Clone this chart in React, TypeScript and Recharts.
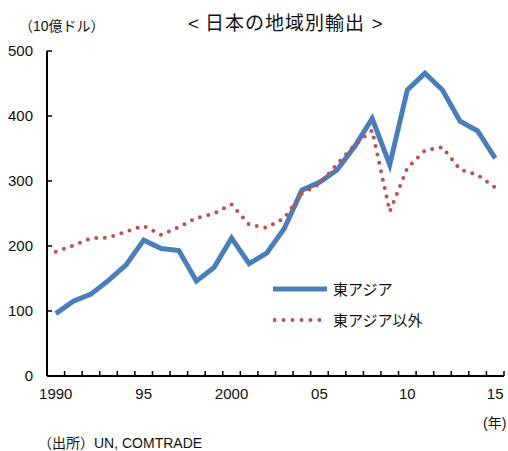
import { LineChart, Line, XAxis, YAxis } from "recharts";

const years = [
  1990, 1991, 1992, 1993, 1994, 1995, 1996, 1997, 1998, 1999, 2000, 2001, 2002,
  2003, 2004, 2005, 2006, 2007, 2008, 2009, 2010, 2011, 2012, 2013, 2014, 2015,
];
// 東アジア向け (10億ドル)
const eastAsia = [
  96, 115, 126, 147, 171, 209, 196, 193, 146, 167, 212, 173, 189, 227, 286, 298,
  317, 353, 396, 325, 440, 466, 440, 392, 377, 335,
];
// 東アジア以外向け
const otherRegions = [
  191, 201, 212, 213, 222, 231, 217, 229, 243, 250, 264, 233, 228, 243, 281, 295,
  326, 355, 378, 253, 320, 347, 352, 318, 309, 290,
];
const yTicks = [0, 100, 200, 300, 400, 500];
const yearLabels: Record<number, string> = {
  1990: "1990",
  1995: "95",
  2000: "2000",
  2005: "05",
  2010: "10",
  2015: "15",
};

const series = [
  { key: "eastAsia", name: "東アジア", color: "#4a7ebb", dotted: false },
  { key: "other", name: "東アジア以外", color: "#c0504d", dotted: true },
];

const data = years.map((year, i) => ({
  year,
  eastAsia: eastAsia[i],
  other: otherRegions[i],
}));

// tick marks sit between the years, labels on the years
const xTicks = years
  .flatMap((y) => [y - 0.5, y])
  .concat(years[years.length - 1] + 0.5);

const FONT = "'Liberation Sans', 'Noto Sans CJK JP', sans-serif";
const TICK_GAP = 12;

const YearTick = ({ x, y, payload }: any) => {
  const v = payload.value;
  if (v % 1 !== 0) {
    return (
      <line x1={x} x2={x} y1={y - TICK_GAP} y2={y - TICK_GAP - 5} stroke="#000" strokeWidth={1.5} />
    );
  }
  if (!yearLabels[v]) return <g />;
  return (
    <text x={x} y={y} dy="0.71em" textAnchor="middle" fontSize={15} fill="#111" fontFamily={FONT}>
      {yearLabels[v]}
    </text>
  );
};

const ValueTick = ({ x, y, payload }: any) => (
  <g>
    <text x={x} y={y} dy="0.355em" textAnchor="end" fontSize={15} fill="#111" fontFamily={FONT}>
      {payload.value}
    </text>
    <line x1={x + 14} x2={x + 19} y1={y} y2={y} stroke="#000" strokeWidth={1.5} />
  </g>
);

const ChartLegend = () => (
  <div style={{ position: "absolute", left: 273, top: 273, fontSize: 15, color: "#111" }}>
    {series.map((s) => (
      <div key={s.key} style={{ display: "flex", alignItems: "center", height: 31 }}>
        <svg width={60} height={10}>
          {s.dotted ? (
            <line x1={1.5} x2={48} y1={5} y2={5} stroke={s.color} strokeWidth={4}
              strokeDasharray="0 9" strokeLinecap="round" />
          ) : (
            <line x1={0} x2={54} y1={5} y2={5} stroke={s.color} strokeWidth={5} />
          )}
        </svg>
        <span style={{ whiteSpace: "nowrap" }}>{s.name}</span>
      </div>
    ))}
  </div>
);

export default function App() {
  return (
    <div style={{ position: "absolute", left: 0, top: 0, width: 508, height: 451, background: "#fff", fontFamily: FONT, color: "#111" }}>
      <div style={{ position: "absolute", left: 188, top: 14, fontSize: 19, lineHeight: 1, letterSpacing: 1, whiteSpace: "nowrap" }}>
        <span style={{ marginRight: 5 }}>{"<"}</span>
        {"日本の地域別輸出 >"}
      </div>
      <div style={{ position: "absolute", left: 19, top: 19, fontSize: 14, lineHeight: 1, whiteSpace: "nowrap" }}>
        （10億ドル）
      </div>
      <LineChart width={508} height={451} data={data} margin={{ top: 51, right: 4, bottom: 45, left: 0 }}>
        <XAxis
          dataKey="year"
          type="number"
          domain={[xTicks[0], xTicks[xTicks.length - 1]]}
          ticks={xTicks}
          interval={0}
          height={30}
          tickLine={false}
          tickSize={0}
          tickMargin={TICK_GAP}
          axisLine={{ stroke: "#000", strokeWidth: 2 }}
          tick={<YearTick />}
        />
        <YAxis
          domain={[0, 500]}
          ticks={yTicks}
          interval={0}
          width={47}
          tickLine={false}
          tickSize={0}
          tickMargin={14}
          axisLine={{ stroke: "#000", strokeWidth: 2 }}
          tick={<ValueTick />}
        />
        <Line
          dataKey="eastAsia"
          name="東アジア"
          stroke="#4a7ebb"
          strokeWidth={5}
          dot={false}
          strokeLinejoin="miter"
          isAnimationActive={false}
        />
        <Line
          dataKey="other"
          name="東アジア以外"
          stroke="#c0504d"
          strokeWidth={4}
          strokeDasharray="0 8.6"
          strokeLinecap="round"
          dot={false}
          isAnimationActive={false}
        />
      </LineChart>
      <ChartLegend />
      <div style={{ position: "absolute", left: 483, top: 416, fontSize: 14, lineHeight: 1, whiteSpace: "nowrap" }}>
        (年)
      </div>
      <div style={{ position: "absolute", left: 38, top: 436, fontSize: 14, lineHeight: 1, whiteSpace: "nowrap" }}>
        （出所）UN, COMTRADE
      </div>
    </div>
  );
}
